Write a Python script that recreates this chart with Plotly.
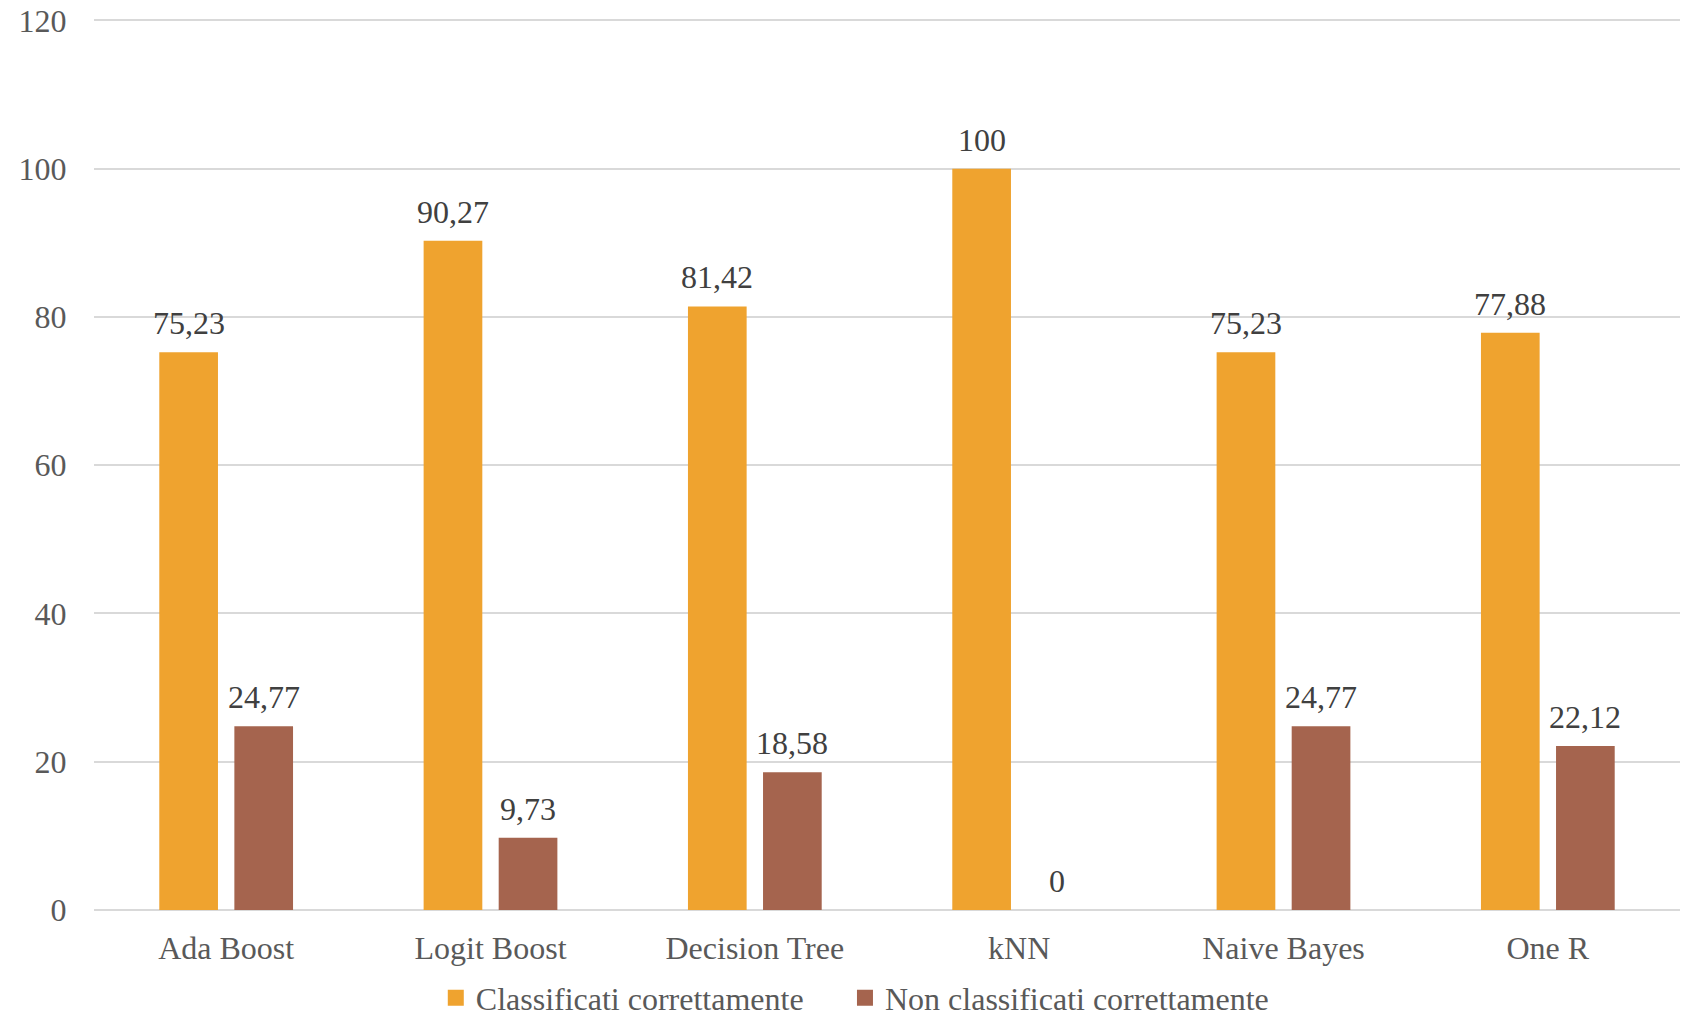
import plotly.graph_objects as go

categories = ["Ada Boost", "Logit Boost", "Decision Tree", "kNN", "Naive Bayes", "One R"]
correct = [75.23, 90.27, 81.42, 100, 75.23, 77.88]
incorrect = [24.77, 9.73, 18.58, 0, 24.77, 22.12]
series_names = ["Classificati correttamente", "Non classificati correttamente"]
y_ticks = [0, 20, 40, 60, 80, 100, 120]

COLORS = ["#EFA32F", "#A5644E"]
FONT = "Liberation Serif"
FS = 32
BAR_W = 0.222
OFFSETS = [-0.253, 0.031]
LEGEND_X = [0.2155, 0.4735]


def fmt(v):
    if float(v).is_integer():
        return str(int(v))
    return f"{v:.2f}".replace(".", ",")


fig = go.Figure()
for name, vals, col, off in zip(series_names, [correct, incorrect], COLORS, OFFSETS):
    fig.add_trace(go.Bar(
        x=categories, y=vals, name=name, showlegend=False,
        marker=dict(color=col, line=dict(width=0)),
        width=BAR_W, offset=off,
    ))
# legend entries with larger square symbols, one legend each
for k, (name, col) in enumerate(zip(series_names, COLORS)):
    fig.add_trace(go.Scatter(
        x=[None], y=[None], name=name, mode="markers",
        marker=dict(symbol="square", size=16, color=col),
        showlegend=True, legend="legend" if k == 0 else "legend2",
    ))

annotations = []
for vals, off in zip([correct, incorrect], OFFSETS):
    for i, v in enumerate(vals):
        annotations.append(dict(
            x=i + off + BAR_W / 2, y=v, xref="x", yref="y",
            text=fmt(v), showarrow=False, yanchor="bottom", yshift=9,
            font=dict(family=FONT, size=FS, color="#404040"),
        ))

legend_common = dict(
    orientation="h", y=-0.0981, yanchor="middle", xanchor="left",
    font=dict(family=FONT, size=FS, color="#595959"),
    itemwidth=30, bgcolor="rgba(0,0,0,0)", borderwidth=0,
)

fig.update_layout(
    width=1683, height=1023,
    margin=dict(l=94, r=3, t=13, b=113, autoexpand=False),
    paper_bgcolor="white", plot_bgcolor="white",
    barmode="group",
    font=dict(family=FONT, size=FS, color="#595959"),
    showlegend=True,
    legend=dict(x=LEGEND_X[0], **legend_common),
    legend2=dict(x=LEGEND_X[1], **legend_common),
    annotations=annotations,
    xaxis=dict(
        type="category", showgrid=False, showline=False, zeroline=False,
        automargin=False,
        ticks="outside", ticklen=10, tickcolor="rgba(0,0,0,0)",
        tickfont=dict(family=FONT, size=FS, color="#595959"),
    ),
    yaxis=dict(
        range=[0, 121], tickvals=y_ticks, showgrid=True, automargin=False,
        gridcolor="#D9D9D9", gridwidth=2,
        zeroline=True, zerolinecolor="#D9D9D9", zerolinewidth=2,
        showline=False, ticks="outside", ticklen=20, tickcolor="rgba(0,0,0,0)",
        tickfont=dict(family=FONT, size=FS, color="#595959"),
    ),
)

fig.write_html("out.html")
